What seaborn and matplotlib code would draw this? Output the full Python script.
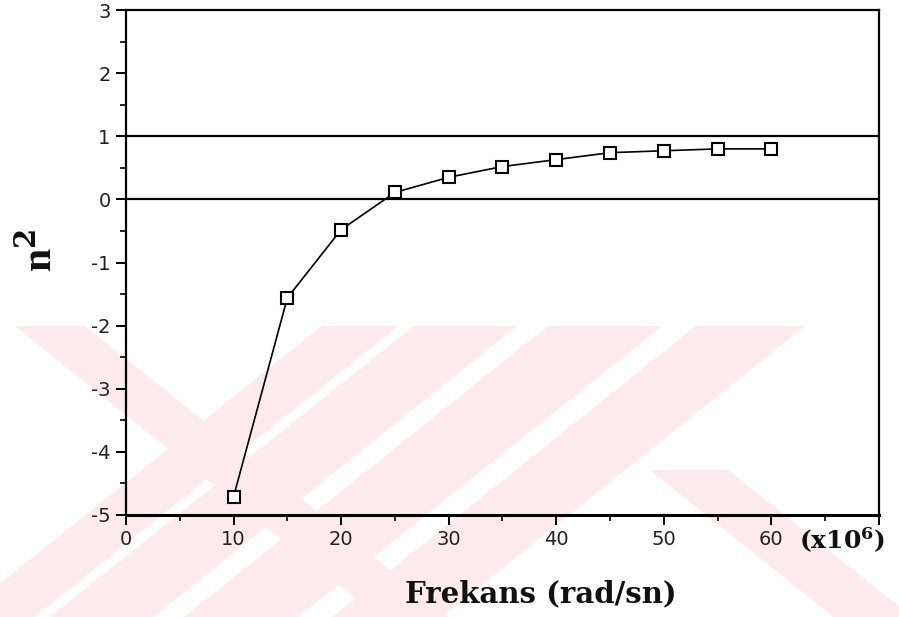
import numpy as np
import pandas as pd
import seaborn as sns
import matplotlib
matplotlib.use("Agg")
import matplotlib.pyplot as plt
import matplotlib.transforms as mtransforms
from matplotlib.patches import Polygon
from matplotlib.ticker import MultipleLocator

# Frequency (x10^6 rad/s) and the corresponding n^2 values
frekans = [10, 15, 20, 25, 30, 35, 40, 45, 50, 55, 60]
n_kare = [-4.71, -1.56, -0.48, 0.11, 0.35, 0.52, 0.63, 0.74, 0.77, 0.80, 0.80]

x_ticks = [0, 10, 20, 30, 40, 50, 60, 70]
x_tick_labels = ["0", "10", "20", "30", "40", "50", "60", ""]
y_ticks = [-5, -4, -3, -2, -1, 0, 1, 2, 3]
ref_levels = [0, 1]

df = pd.DataFrame({"frekans": frekans, "n2": n_kare})

sns.set_theme(style="ticks")
plt.rcParams["font.family"] = ["DejaVu Sans"]
plt.rcParams["axes.unicode_minus"] = False
plt.rcParams["mathtext.fontset"] = "custom"
plt.rcParams["mathtext.rm"] = "DejaVu Serif:bold"
plt.rcParams["mathtext.it"] = "DejaVu Serif:bold"
plt.rcParams["mathtext.bf"] = "DejaVu Serif:bold"

W, H = 899, 617
fig = plt.figure(figsize=(W / 100, H / 100), dpi=100)
fig.patch.set_facecolor("white")


def px(x, y):
    return (x / W, 1 - y / H)


# faint diagonal background stripes
pink = "#fdeaee"
top, bot = 326, 640
dx = (bot - top) / 0.8


def back(a, b, y0=top):
    d0 = (y0 - top) / 0.8
    return [px(a + d0, y0), px(b + d0, y0), px(b + dx, bot), px(a + dx, bot)]


def fwd(a, b):
    return [px(a, top), px(b, top), px(b - dx, bot), px(a - dx, bot)]


stripes = [back(15, 85), fwd(322, 398), fwd(414, 517), fwd(548, 662),
           fwd(696, 805), back(470, 548, y0=470)]
for pts in stripes:
    fig.patches.append(Polygon(pts, closed=True, transform=fig.transFigure,
                               facecolor=pink, edgecolor="none", zorder=-5))

ax = fig.add_axes([126 / W, 1 - 515 / H, (879 - 126) / W, (515 - 10) / H])
ax.patch.set_alpha(0)

for lvl in ref_levels:
    ax.axhline(lvl, color="black", lw=1.6, zorder=1)

sns.lineplot(data=df, x="frekans", y="n2", ax=ax, color="black", lw=1.2,
             marker="s", markersize=8.5, markerfacecolor="white",
             markeredgecolor="black", markeredgewidth=1.5, zorder=3)

ax.set_xlim(0, 70)
ax.set_ylim(-5, 3)
ax.set_xticks(x_ticks)
ax.set_xticklabels(x_tick_labels)
ax.set_yticks(y_ticks)
ax.set_yticklabels([str(v) for v in y_ticks])
ax.xaxis.set_minor_locator(MultipleLocator(5))
ax.yaxis.set_minor_locator(MultipleLocator(0.5))
ax.tick_params(axis="both", which="major", length=7, width=1.4, color="black",
               labelsize=14, labelcolor="#222222", pad=4)
ax.tick_params(axis="both", which="minor", length=4, width=1.2, color="black")
ax.set_xlabel("")
ax.set_ylabel("")
for side in ["left", "bottom", "right", "top"]:
    ax.spines[side].set_color("black")
    ax.spines[side].set_linewidth(1.6)
ax.spines["bottom"].set_linewidth(2.2)

# unit multiplier next to the last tick label
unit_tr = mtransforms.blended_transform_factory(ax.transData, ax.transAxes)
ax.text(62.6, -0.022, r"(x10$^{6}$)", transform=unit_tr, ha="left",
        va="top", fontsize=18, family="DejaVu Serif", fontweight="bold",
        color="#111111", clip_on=False)

fig.text(*px(541, 594), "Frekans (rad/sn)", ha="center", va="center",
         fontsize=21, family="DejaVu Serif", fontweight="bold", color="#111111")
fig.text(*px(40, 250), r"n$^{2}$", ha="center", va="center", rotation=90,
         fontsize=30, family="Liberation Serif", fontweight="bold",
         color="#111111")

fig.savefig("out.png", dpi=100)
